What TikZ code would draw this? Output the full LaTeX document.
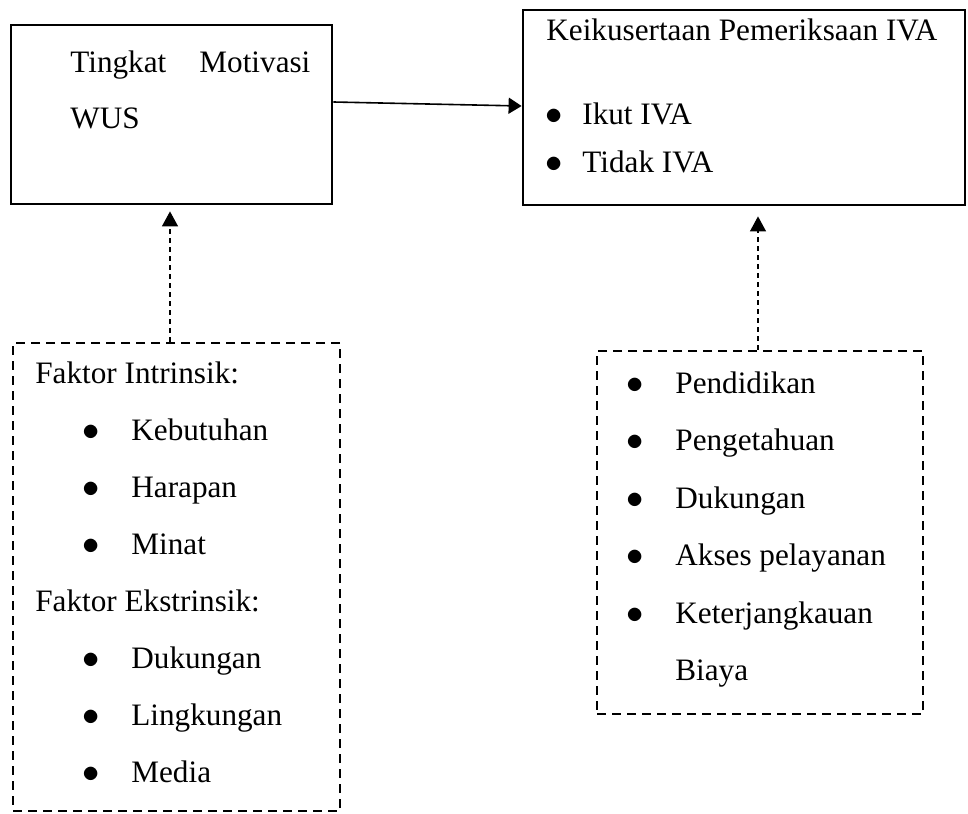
\documentclass[tikz,border=0pt]{standalone}
\usepackage{fontspec}
\setmainfont{Liberation Serif}
\usetikzlibrary{arrows.meta}

\begin{document}
\begin{tikzpicture}[x=0.5pt, y=-0.5pt,
    box/.style={rectangle, draw, line width=1.4pt, inner sep=0pt},
    dbox/.style={rectangle, draw, line width=1.3pt, dash pattern=on 4.5pt off 3pt, inner sep=0pt},
    txt/.style={anchor=base west, inner sep=0pt, font=\fontsize{15.6}{18}\selectfont},
    bul/.style={anchor=base west, inner sep=0pt, font=\fontsize{18}{20}\selectfont},
    arr/.style={-{Triangle[length=6.5pt,width=8pt]}, line width=0.8pt},
    dotarr/.style={-{Triangle[length=7.5pt,width=8pt]}, line width=0.6pt, dash pattern=on 2.5pt off 2pt}]
    \useasboundingbox (0,0) rectangle (968,813);
    % kotak utama
    \node [box, minimum width=160.5pt, minimum height=89.5pt] (motivasi) at (171.5,114.5) {};
    \node [box, minimum width=221pt, minimum height=97.5pt] (iva) at (744,107.5) {};
    % kotak faktor
    \node [dbox, minimum width=163.5pt, minimum height=234pt] (intrinsik) at (176.5,577) {};
    \node [dbox, minimum width=163pt, minimum height=181.5pt] (faktor) at (760,532.5) {};

    % teks kotak utama
    \node [txt, text width=120pt] (tingkat) at (70,73) {Tingkat\hfill Motivasi};
    \node [txt] (wus) at (70,128) {WUS};
    \node [txt] (judul) at (546,41) {Keikusertaan Pemeriksaan IVA};
    \foreach \t/\y [count=\i] in {Ikut IVA/125, Tidak IVA/172} {
        \node [bul] (ivab\i) at (545,\y) {$\bullet$};
        \node [txt] (ivat\i) at (582,\y) {\t};
    }

    % teks faktor intrinsik dan ekstrinsik
    \node [txt] (fin) at (35,383) {Faktor Intrinsik:};
    \foreach \t [count=\i] in {Kebutuhan, Harapan, Minat} {
        \node [bul] (finb\i) at (82,383+57*\i) {$\bullet$};
        \node [txt] (fint\i) at (131,383+57*\i) {\t};
    }
    \node [txt] (fek) at (35,611) {Faktor Ekstrinsik:};
    \foreach \t [count=\i] in {Dukungan, Lingkungan, Media} {
        \node [bul] (fekb\i) at (82,611+57*\i) {$\bullet$};
        \node [txt] (fekt\i) at (131,611+57*\i) {\t};
    }

    % teks faktor lain
    \foreach \t [count=\i from 0] in {Pendidikan, Pengetahuan, Dukungan, Akses pelayanan, Keterjangkauan} {
        \node [bul] (fb\i) at (626,393+57.5*\i) {$\bullet$};
        \node [txt] (ft\i) at (675,393+57.5*\i) {\t};
    }
    \node [txt] (biaya) at (675,680.5) {Biaya};

    % panah
    \draw [arr] ([yshift=6.25pt]motivasi.east) -- ([yshift=0.75pt]iva.west);
    \coordinate (p1) at ([xshift=-3.25pt]intrinsik.north);
    \coordinate (p2) at ([xshift=-1pt]faktor.north);
    \draw [dotarr, shorten >=3pt] (p1) -- (p1 |- motivasi.south);
    \draw [dotarr, shorten >=5pt] (p2) -- (p2 |- iva.south);
\end{tikzpicture}
\end{document}
